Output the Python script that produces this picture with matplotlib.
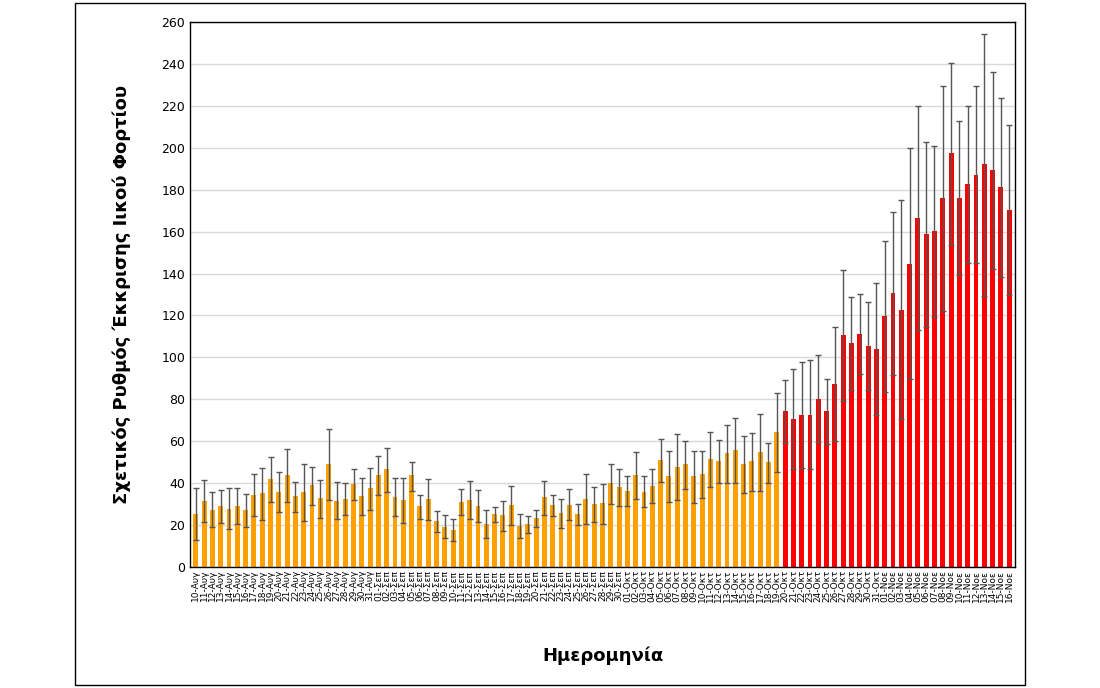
import datetime as dt

import matplotlib.pyplot as plt
from matplotlib.patches import Rectangle

# Relative viral load excretion rate, per day (10 Aug - 16 Nov)
values = [
    25.5, 31.4, 27.4, 29.0, 27.9, 29.2, 27.1, 34.3, 35.1, 41.8, 35.9, 43.7, 33.7, 35.7, 38.9, 32.7,
    49.0, 31.7, 32.5, 39.6, 34.1, 37.5,
    43.9, 46.6, 33.3, 32.1, 43.7, 28.9, 32.5, 22.0, 19.3, 17.7, 31.1, 32.2, 29.3, 20.7, 25.2,
    24.6, 29.5, 19.6, 20.4, 23.3, 33.3, 29.7, 25.8, 29.8, 25.2, 32.4, 30.1, 30.5, 39.9, 38.0,
    36.4, 43.9, 36.0, 38.6, 51.0, 43.5, 47.8, 49.0, 43.2, 44.2, 51.4, 50.6, 54.2, 55.7, 49.1,
    50.4, 54.9, 49.9, 64.4, 74.4, 70.7, 72.7, 72.7, 80.3, 74.3, 87.5, 110.5, 106.9, 111.3,
    105.5, 104.1,
    119.7, 130.5, 122.8, 144.7, 166.7, 158.8, 160.2, 175.9, 197.3, 176.1, 182.5, 187.2, 192.3,
    189.4, 181.1, 170.5,
]
err_high = [
    37.8, 41.5, 35.7, 36.7, 37.5, 37.5, 34.6, 44.2, 47.2, 52.5, 45.5, 56.1, 40.7, 49.3, 47.8, 41.6,
    65.7, 40.4, 39.9, 46.7, 42.6, 47.4,
    53.1, 56.8, 42.4, 42.6, 50.2, 34.4, 42.1, 26.8, 24.6, 22.8, 37.2, 41.1, 36.7, 27.3, 28.7,
    31.6, 38.8, 25.2, 24.1, 27.0, 40.8, 34.4, 32.5, 37.0, 30.0, 44.3, 38.1, 39.7, 49.1, 46.7,
    43.2, 54.9, 43.2, 46.6, 60.9, 55.5, 63.6, 60.1, 55.3, 55.5, 64.4, 60.6, 67.9, 71.0, 62.4,
    64.1, 73.2, 59.3, 82.9, 89.3, 94.5, 97.6, 98.8, 101.2, 89.8, 114.7, 141.7, 128.7, 130.2,
    126.6, 135.4,
    155.5, 169.4, 175.2, 199.8, 219.8, 202.9, 200.9, 229.5, 240.5, 212.8, 220.0, 229.3, 254.5,
    236.0, 223.9, 210.8,
]
err_low = [
    12.9, 21.4, 19.0, 20.9, 17.9, 20.6, 19.3, 24.4, 22.5, 31.1, 26.2, 31.1, 26.2, 21.8, 29.5, 23.4,
    32.1, 23.0, 24.7, 31.9, 24.9, 27.0,
    34.3, 35.7, 24.1, 20.9, 36.4, 22.8, 22.6, 16.9, 13.9, 12.4, 24.6, 23.0, 21.5, 13.9, 21.4,
    17.4, 19.9, 13.6, 16.3, 19.1, 25.0, 24.1, 18.7, 22.5, 20.1, 20.3, 21.5, 20.7, 30.1, 28.9,
    29.0, 32.5, 28.7, 30.3, 40.7, 31.1, 32.1, 37.3, 30.6, 32.9, 38.3, 40.0, 40.2, 40.2, 35.4,
    36.4, 36.4, 39.9, 45.5, 59.2, 46.6, 47.3, 46.6, 59.4, 58.9, 60.3, 79.4, 84.6, 92.2,
    84.4, 72.4,
    83.7, 91.6, 70.4, 89.5, 112.9, 114.3, 119.2, 122.2, 153.6, 139.3, 144.9, 144.9, 129.4,
    142.4, 138.3, 129.8,
]
months = {8: "Αυγ", 9: "Σεπ", 10: "Οκτ", 11: "Νοε"}
start = dt.date(2020, 8, 10)
dates = [start + dt.timedelta(days=i) for i in range(len(values))]
labels = [f"{d.day:02d}-{months[d.month]}" for d in dates]
red_from = dt.date(2020, 10, 20)

colors = ["#FF0000" if d >= red_from else "#FFA000" for d in dates]
x = list(range(len(values)))
yerr = [[v - lo for v, lo in zip(values, err_low)], [hi - v for v, hi in zip(values, err_high)]]

fig = plt.figure(figsize=(11, 6.88), dpi=100)
ax = fig.add_axes([190 / 1100, 1 - 567 / 688, 825 / 1100, 545 / 688])
fig.patches.append(Rectangle((75 / 1100, 3 / 688), 950 / 1100, 682 / 688,
                             transform=fig.transFigure, fill=False, edgecolor="black", lw=1))

ax.bar(x, values, width=0.6, color=colors, zorder=2)
ax.errorbar(x, values, yerr=yerr, fmt="none", ecolor="#555555", elinewidth=1,
            capsize=2.5, capthick=1, zorder=3)

ax.set_xlim(-0.7, len(values) - 0.3)
ax.set_ylim(0, 260)
ax.set_yticks(range(0, 261, 20))
ax.yaxis.grid(True, color="#d9d9d9", lw=1, zorder=0)
ax.set_xticks(x)
ax.set_xticklabels(labels, rotation=90, fontsize=6.5)
ax.tick_params(axis="y", labelsize=9, length=0)
ax.tick_params(axis="x", length=0, pad=2)
for s in ax.spines.values():
    s.set_color("black")
    s.set_linewidth(1)

ax.set_ylabel("Σχετικός Ρυθμός Έκκρισης Ιικού Φορτίου", fontsize=13, fontweight="bold", labelpad=22)
ax.set_xlabel("Ημερομηνία", fontsize=13, fontweight="bold", labelpad=32)

fig.savefig("out.png", dpi=100)
